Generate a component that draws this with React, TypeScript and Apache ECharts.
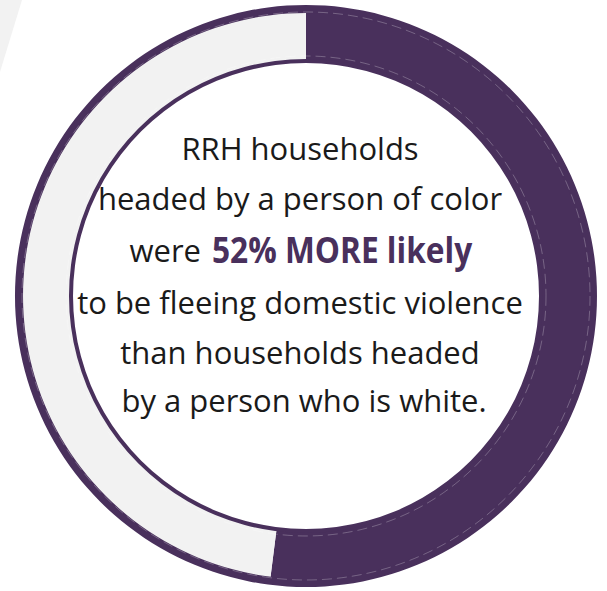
import React, { useEffect, useRef } from "react";
import * as echarts from "echarts";

const segments = ["Person of color", "White"];
const shares = [52, 48];
const lines = [
  "RRH households",
  "headed by a person of color",
  "__RICH__",
  "to be fleeing domestic violence",
  "than households headed",
  " by a person who is white.",
];
const richPrefix = "were";
const richHighlight = "52% MORE likely";

const PURPLE = "#49305c";
const GRAY = "#f2f2f2";

export default function App() {
  const ref = useRef<HTMLDivElement>(null);
  useEffect(() => {
    document.body.style.margin = "0";
    const chart = echarts.init(ref.current!, null, { renderer: "svg" });
    const cx = 306;
    const cy = 296;
    const lineY = [148, 198, 250, 302, 352, 400];
    const texts: any[] = [];
    lines.forEach((t, i) => {
      if (t === "__RICH__") {
        texts.push({
          type: "text",
          x: 201,
          y: lineY[i],
          z: 10,
          style: {
            text: richPrefix,
            fontFamily: "Open Sans",
            fontSize: 31,
            fill: "#1a1a1a",
            textAlign: "right",
            textVerticalAlign: "middle",
          },
        });
        texts.push({
          type: "text",
          x: 212,
          y: lineY[i] - 1,
          z: 10,
          scaleX: 0.88,
          style: {
            text: richHighlight,
            fontFamily: "Open Sans",
            fontWeight: "bold",
            fontSize: 36,
            fill: PURPLE,
            textAlign: "left",
            textVerticalAlign: "middle",
          },
        });
        return;
      }
      texts.push({
        type: "text",
        x: 300,
        y: lineY[i],
        z: 10,
        style: {
          text: t,
          fontFamily: "Open Sans",
          fontSize: 31,
          fill: "#1a1a1a",
          textAlign: "center",
          textVerticalAlign: "middle",
        },
      });
    });
    chart.setOption({
      animation: false,
      backgroundColor: "#ffffff",
      series: [
        {
          type: "pie",
          center: [cx, cy],
          radius: [236, 284],
          startAngle: 90,
          clockwise: true,
          silent: true,
          label: { show: false },
          labelLine: { show: false },
          data: segments.map((name, i) => ({
            name,
            value: shares[i],
            itemStyle: { color: i === 0 ? PURPLE : GRAY },
          })),
        },
        {
          type: "pie",
          center: [cx, cy],
          radius: [283, 291],
          silent: true,
          label: { show: false },
          labelLine: { show: false },
          data: [{ value: 1, itemStyle: { color: PURPLE } }],
        },
        {
          type: "pie",
          center: [cx, cy],
          radius: [233, 237],
          silent: true,
          label: { show: false },
          labelLine: { show: false },
          data: [{ value: 1, itemStyle: { color: PURPLE } }],
        },
      ],
      graphic: [
        {
          type: "polygon",
          z: -10,
          shape: { points: [[0, 0], [22, 0], [0, 72]] },
          style: { fill: GRAY },
        },
        {
          type: "circle",
          z: 5,
          shape: { cx, cy, r: 284 },
          style: { fill: "none", stroke: "rgba(255,255,255,0.25)", lineWidth: 1, lineDash: [10, 5] },
          silent: true,
        },
        {
          type: "circle",
          z: 5,
          shape: { cx, cy, r: 240 },
          style: { fill: "none", stroke: "rgba(255,255,255,0.25)", lineWidth: 1, lineDash: [10, 5] },
          silent: true,
        },
        ...texts,
      ],
    });
    return () => chart.dispose();
  }, []);
  return (
    <div
      ref={ref}
      style={{ position: "fixed", left: 0, top: 0, width: 607, height: 591 }}
    />
  );
}
